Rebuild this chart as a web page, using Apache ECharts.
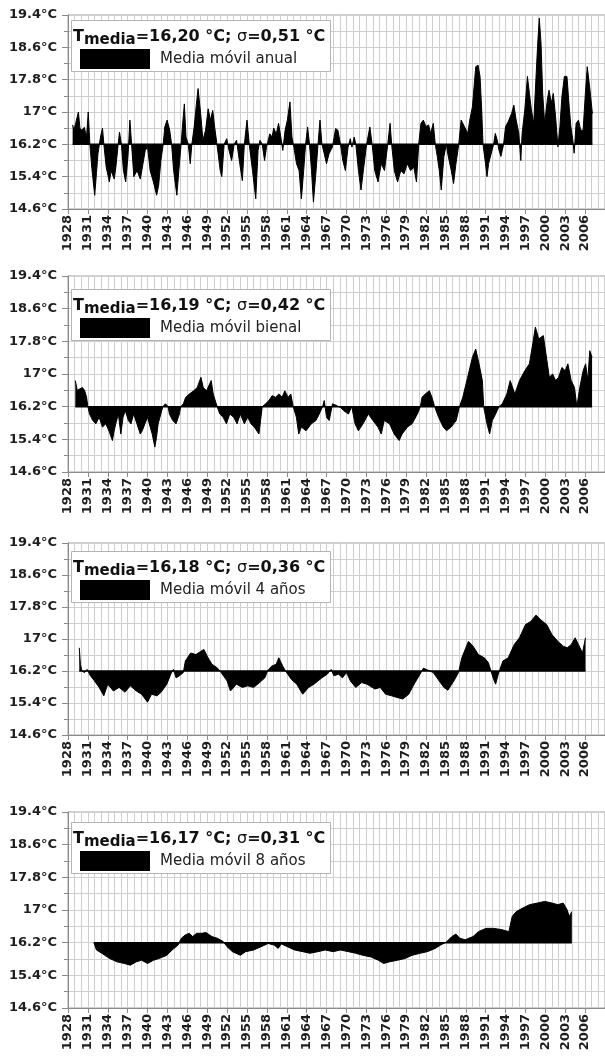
<!DOCTYPE html>
<html><head><meta charset="utf-8">
<script src="https://cdn.jsdelivr.net/npm/echarts@6/dist/echarts.min.js"></script>
<style>html,body{margin:0;padding:0;background:#fff}#c{width:605px;height:1059px}</style>
</head><body><div id="c"></div>
<script>
// ---- data (year, °C) ----
const anual = [[1928.7,16.68],[1928.9,16.55],[1929.2,16.75],[1929.57,17.0],[1929.8,16.6],[1930.07,16.55],[1930.46,16.62],[1930.8,16.38],[1931.05,17.0],[1931.3,16.2],[1931.6,15.6],[1932.03,14.94],[1932.3,15.5],[1932.52,15.97],[1932.9,16.38],[1933.2,16.6],[1933.41,16.2],[1933.75,15.65],[1934.24,15.27],[1934.49,15.55],[1934.98,15.34],[1935.23,15.65],[1935.57,16.2],[1935.77,16.5],[1936.06,16.2],[1936.36,15.55],[1936.7,15.27],[1937.05,15.9],[1937.34,16.8],[1937.59,16.2],[1937.93,15.4],[1938.42,15.55],[1938.91,15.34],[1939.31,15.72],[1939.65,16.05],[1940.0,16.13],[1940.39,15.55],[1940.88,15.27],[1941.37,14.94],[1941.67,15.18],[1942.01,15.8],[1942.36,16.2],[1942.6,16.63],[1942.95,16.8],[1943.34,16.55],[1943.63,16.2],[1943.93,15.55],[1944.42,14.94],[1944.72,15.55],[1945.06,16.2],[1945.3,16.72],[1945.55,17.2],[1945.8,16.38],[1946.14,16.2],[1946.44,15.72],[1946.68,16.2],[1947.03,16.63],[1947.27,17.04],[1947.62,17.58],[1948.01,16.96],[1948.35,16.3],[1948.75,16.55],[1949.14,17.08],[1949.48,16.8],[1949.83,17.04],[1950.12,16.63],[1950.47,16.2],[1950.96,15.55],[1951.2,15.4],[1951.55,16.2],[1951.94,16.34],[1952.29,16.05],[1952.68,15.8],[1953.07,16.2],[1953.42,16.3],[1953.91,15.72],[1954.3,15.3],[1954.6,16.2],[1955.0,16.8],[1955.34,16.2],[1955.83,15.55],[1956.32,14.85],[1956.67,16.05],[1956.96,16.3],[1957.3,16.2],[1957.65,15.8],[1957.94,16.13],[1958.44,16.46],[1958.78,16.38],[1959.03,16.6],[1959.42,16.46],[1959.76,16.72],[1960.1,16.38],[1960.4,16.05],[1960.75,16.55],[1961.09,16.8],[1961.48,17.25],[1961.78,16.38],[1962.07,16.13],[1962.47,15.72],[1962.86,15.55],[1963.2,14.85],[1963.55,15.55],[1963.84,16.2],[1964.14,16.63],[1964.43,16.2],[1964.73,15.55],[1965.02,14.77],[1965.42,15.55],[1965.71,16.2],[1966.01,16.8],[1966.3,16.2],[1966.65,15.97],[1966.99,15.72],[1967.38,15.97],[1967.88,16.13],[1968.37,16.59],[1968.71,16.55],[1969.1,16.2],[1969.45,15.8],[1969.84,15.55],[1970.24,16.13],[1970.58,16.34],[1970.83,16.13],[1971.17,16.38],[1971.42,16.2],[1971.81,15.55],[1972.2,15.07],[1972.55,15.55],[1973.04,16.2],[1973.53,16.63],[1973.87,16.2],[1974.27,15.55],[1974.76,15.27],[1975.25,15.72],[1975.74,15.55],[1976.23,16.2],[1976.58,16.72],[1976.82,16.2],[1977.22,15.55],[1977.71,15.27],[1978.2,15.55],[1978.69,15.47],[1979.18,15.72],[1979.68,15.55],[1980.17,15.63],[1980.56,15.27],[1980.9,16.2],[1981.24,16.72],[1981.6,16.8],[1982.0,16.64],[1982.4,16.68],[1982.7,16.47],[1983.1,16.72],[1983.4,16.2],[1983.7,15.9],[1984.0,15.56],[1984.3,15.07],[1984.7,15.9],[1985.07,16.2],[1985.3,15.95],[1985.8,15.56],[1986.16,15.23],[1986.5,15.7],[1986.94,16.2],[1987.3,16.8],[1987.8,16.64],[1988.3,16.47],[1988.6,16.8],[1989.0,17.13],[1989.5,18.12],[1989.85,18.16],[1990.15,17.88],[1990.4,17.05],[1990.6,16.2],[1990.97,15.73],[1991.2,15.4],[1991.45,15.73],[1991.85,15.98],[1992.2,16.2],[1992.45,16.47],[1992.75,16.3],[1993.0,16.06],[1993.3,15.9],[1993.7,16.2],[1994.0,16.64],[1994.4,16.76],[1994.9,16.96],[1995.25,17.17],[1995.6,16.8],[1996.0,16.47],[1996.3,15.8],[1996.5,16.47],[1996.9,17.05],[1997.3,17.88],[1997.6,17.46],[1997.9,17.05],[1998.25,16.72],[1998.6,17.88],[1998.85,18.7],[1999.09,19.32],[1999.35,18.7],[1999.6,17.46],[1999.9,16.72],[2000.3,17.3],[2000.56,17.54],[2000.9,17.22],[2001.2,17.46],[2001.55,16.88],[2001.9,16.14],[2002.2,16.64],[2002.5,17.38],[2002.87,17.88],[2003.26,17.88],[2003.6,17.13],[2003.85,16.64],[2004.15,16.3],[2004.35,15.98],[2004.64,16.72],[2005.0,16.8],[2005.33,16.55],[2005.7,16.55],[2006.07,17.54],[2006.32,18.12],[2006.7,17.6],[2007.1,16.96]];

const bienal = [[1929.1,16.84],[1929.4,16.6],[1929.7,16.64],[1930.16,16.67],[1930.5,16.6],[1930.8,16.43],[1931.0,16.2],[1931.25,16.02],[1931.74,15.86],[1932.2,15.78],[1932.7,15.94],[1933.2,15.7],[1933.7,15.78],[1934.2,15.6],[1934.7,15.37],[1934.95,15.6],[1935.2,15.78],[1935.6,16.02],[1935.97,15.53],[1936.3,15.94],[1936.65,16.1],[1937.1,15.86],[1937.5,15.78],[1937.9,16.02],[1938.4,15.78],[1938.9,15.53],[1939.2,15.61],[1939.6,15.78],[1940.0,15.94],[1940.4,15.7],[1940.7,15.53],[1941.1,15.21],[1941.35,15.45],[1941.6,15.78],[1942.0,16.02],[1942.3,16.2],[1942.7,16.27],[1943.1,16.2],[1943.3,16.02],[1943.8,15.86],[1944.3,15.78],[1944.8,16.02],[1945.0,16.2],[1945.4,16.27],[1945.75,16.43],[1946.3,16.51],[1946.97,16.59],[1947.5,16.67],[1948.05,16.92],[1948.4,16.67],[1948.9,16.59],[1949.6,16.84],[1949.9,16.51],[1950.5,16.2],[1950.9,16.02],[1951.4,15.94],[1951.9,15.78],[1952.4,16.02],[1953.0,15.94],[1953.5,15.78],[1954.0,16.02],[1954.6,15.78],[1955.1,15.94],[1955.6,15.78],[1956.1,15.7],[1956.8,15.53],[1957.3,16.2],[1957.8,16.27],[1958.3,16.35],[1958.8,16.47],[1959.3,16.43],[1959.8,16.51],[1960.3,16.43],[1960.7,16.59],[1961.2,16.43],[1961.6,16.51],[1961.97,16.2],[1962.45,15.94],[1962.8,15.53],[1963.2,15.7],[1963.9,15.61],[1964.7,15.78],[1965.4,15.86],[1965.9,16.02],[1966.4,16.2],[1966.65,16.35],[1967.0,15.94],[1967.4,15.86],[1967.9,16.27],[1968.6,16.22],[1969.1,16.18],[1969.6,16.1],[1970.3,16.02],[1970.8,16.2],[1971.3,15.78],[1971.8,15.61],[1972.5,15.78],[1973.3,16.02],[1974.0,15.86],[1974.75,15.7],[1975.25,15.53],[1975.7,15.86],[1976.5,15.78],[1977.2,15.53],[1977.95,15.37],[1978.4,15.53],[1979.2,15.7],[1979.9,15.78],[1980.7,16.02],[1981.15,16.2],[1981.4,16.43],[1981.9,16.51],[1982.5,16.59],[1982.9,16.43],[1983.3,16.2],[1983.9,15.94],[1984.6,15.7],[1985.1,15.61],[1985.8,15.7],[1986.55,15.86],[1987.05,16.2],[1987.55,16.43],[1988.28,16.92],[1989.0,17.41],[1989.5,17.61],[1990.0,17.25],[1990.5,16.84],[1990.7,16.2],[1991.2,15.78],[1991.6,15.53],[1992.0,15.86],[1992.5,16.02],[1993.0,16.2],[1993.5,16.27],[1994.2,16.51],[1994.7,16.84],[1995.4,16.51],[1996.1,16.84],[1996.9,17.08],[1997.6,17.25],[1998.1,17.74],[1998.5,18.15],[1999.0,17.86],[1999.7,17.94],[2000.1,17.49],[2000.6,16.92],[2001.1,17.0],[2001.55,16.84],[2002.0,16.92],[2002.5,17.16],[2003.0,17.08],[2003.4,17.25],[2003.9,16.84],[2004.4,16.67],[2004.75,16.2],[2005.2,16.67],[2005.7,17.08],[2006.08,17.25],[2006.4,16.84],[2006.7,17.57],[2007.05,17.41]];

const cuatroAnos = [[1929.7,16.78],[1929.87,16.37],[1930.1,16.2],[1930.5,16.16],[1930.9,16.24],[1931.3,16.1],[1932.0,15.95],[1932.7,15.79],[1933.4,15.58],[1934.0,15.87],[1934.85,15.7],[1935.7,15.79],[1936.6,15.67],[1937.4,15.83],[1938.3,15.7],[1939.1,15.62],[1940.0,15.42],[1940.6,15.62],[1941.4,15.58],[1942.0,15.66],[1942.9,15.87],[1943.5,16.12],[1943.9,16.24],[1944.3,16.03],[1944.8,16.08],[1945.4,16.16],[1945.7,16.45],[1946.5,16.65],[1947.3,16.61],[1948.0,16.69],[1948.5,16.74],[1949.0,16.57],[1949.7,16.37],[1950.5,16.28],[1951.1,16.16],[1952.0,15.95],[1952.5,15.7],[1953.4,15.87],[1954.3,15.79],[1955.1,15.83],[1956.0,15.79],[1956.9,15.91],[1957.7,16.03],[1958.1,16.2],[1958.7,16.32],[1959.4,16.37],[1959.8,16.53],[1960.4,16.32],[1960.8,16.2],[1961.7,15.99],[1962.5,15.87],[1963.4,15.62],[1964.3,15.79],[1965.1,15.87],[1966.3,16.03],[1967.1,16.12],[1967.7,16.24],[1968.1,16.08],[1968.8,16.12],[1969.4,16.03],[1970.0,16.16],[1970.6,15.95],[1971.4,15.79],[1972.3,15.91],[1973.1,15.87],[1974.3,15.75],[1975.1,15.79],[1975.9,15.62],[1976.8,15.58],[1977.6,15.54],[1978.5,15.5],[1979.4,15.62],[1980.2,15.87],[1981.1,16.12],[1981.6,16.27],[1982.3,16.22],[1983.1,16.16],[1984.0,15.95],[1984.7,15.79],[1985.3,15.72],[1986.2,15.95],[1986.9,16.16],[1987.4,16.53],[1988.4,16.94],[1989.1,16.82],[1989.9,16.61],[1990.8,16.53],[1991.4,16.41],[1991.8,16.2],[1992.2,15.99],[1992.5,15.87],[1992.9,16.12],[1993.6,16.45],[1994.4,16.53],[1995.3,16.86],[1996.1,17.03],[1997.0,17.36],[1997.8,17.44],[1998.6,17.6],[1999.3,17.48],[2000.2,17.36],[2001.0,17.11],[2001.9,16.94],[2002.7,16.82],[2003.3,16.78],[2003.9,16.86],[2004.5,17.03],[2005.0,16.86],[2005.6,16.65],[2006.06,17.03]];

const ochoAnos = [[1931.9,16.2],[1932.3,16.02],[1933.1,15.94],[1934.3,15.81],[1935.4,15.73],[1936.5,15.69],[1937.4,15.65],[1938.3,15.73],[1939.1,15.77],[1940.0,15.69],[1940.9,15.77],[1941.7,15.81],[1942.9,15.89],[1943.7,16.02],[1944.6,16.14],[1945.1,16.31],[1945.7,16.39],[1946.3,16.43],[1946.8,16.35],[1947.4,16.43],[1948.2,16.43],[1948.8,16.45],[1949.7,16.35],[1950.5,16.31],[1951.4,16.23],[1952.0,16.1],[1952.8,15.98],[1954.0,15.89],[1954.8,15.98],[1956.0,16.02],[1957.1,16.1],[1958.2,16.18],[1958.5,16.22],[1959.1,16.14],[1959.7,16.06],[1960.2,16.17],[1961.1,16.1],[1962.2,16.02],[1963.4,15.98],[1964.5,15.94],[1965.7,15.98],[1966.8,16.02],[1968.0,15.98],[1969.1,16.02],[1970.3,15.98],[1971.4,15.94],[1972.5,15.89],[1973.7,15.85],[1974.8,15.77],[1975.6,15.69],[1976.5,15.73],[1977.7,15.77],[1978.8,15.81],[1979.9,15.89],[1981.1,15.94],[1982.2,15.98],[1983.4,16.06],[1984.2,16.14],[1985.1,16.22],[1985.9,16.35],[1986.5,16.41],[1987.1,16.31],[1987.9,16.27],[1989.1,16.35],[1989.9,16.47],[1991.05,16.55],[1992.2,16.55],[1993.4,16.52],[1994.5,16.47],[1995.0,16.84],[1995.6,16.96],[1996.5,17.04],[1997.6,17.13],[1998.8,17.17],[1999.9,17.21],[2001.0,17.17],[2001.9,17.13],[2002.7,17.17],[2003.3,17.0],[2003.6,16.84],[2004.0,16.96]];

const seriesNames = ['Media móvil anual','Media móvil bienal','Media móvil 4 años','Media móvil 8 años'];
const tMediaTexts = ['16,20','16,19','16,18','16,17'];
const sigmaTexts = ['0,51','0,42','0,36','0,31'];
const xTickLabels = ['1928','1931','1934','1937','1940','1943','1946','1949','1952','1955','1958','1961','1964','1967','1970','1973','1976','1979','1982','1985','1988','1991','1994','1997','2000','2003','2006'];
const yTickLabels = ['14.6°C','15.4°C','16.2°C','17°C','17.8°C','18.6°C','19.4°C'];

// ---- layout ----
const START_YEAR = 1928, BASE = 16.2;
const panelData = [anual, bienal, cuatroAnos, ochoAnos];
const tops = [15, 276, 543, 812];
const heights = [194, 196, 192, 196];
const boxTops = [21, 290, 552, 823];
const FONT = 'DejaVu Sans';
const GRID_C = '#cfcfcf', AXIS_C = '#8a8a8a', TXT_C = '#1e1e1e';

const grid = [], xAxis = [], yAxis = [], series = [], title = [];
panelData.forEach((d, i) => {
  grid.push({left: 68, right: -12, top: tops[i], height: heights[i], show: true,
             borderColor: '#a0a0a0', borderWidth: 1, backgroundColor: 'transparent'});
  xAxis.push({type: 'value', gridIndex: i, min: 0, max: 81, interval: 3,
    axisLine: {show: true, onZero: false, lineStyle: {color: AXIS_C}},
    axisTick: {show: true, length: 5, lineStyle: {color: AXIS_C}},
    minorTick: {show: false, splitNumber: 3},
    axisLabel: {rotate: 90, margin: 6, fontFamily: FONT, fontWeight: 'bold', fontSize: 13, color: TXT_C,
      showMaxLabel: false,
      formatter: v => xTickLabels[Math.round(v / 3)] || ''},
    splitLine: {show: true, lineStyle: {color: GRID_C, width: 1}},
    minorSplitLine: {show: true, lineStyle: {color: GRID_C, width: 1}}});
  yAxis.push({type: 'value', gridIndex: i, min: -1.6, max: 3.2, interval: 0.8,
    axisLine: {show: true, onZero: false, lineStyle: {color: AXIS_C}},
    axisTick: {show: true, length: 6, lineStyle: {color: AXIS_C}},
    minorTick: {show: true, splitNumber: 2, length: 4, lineStyle: {color: AXIS_C}},
    axisLabel: {margin: 11, fontFamily: FONT, fontWeight: 'bold', fontSize: 13, color: TXT_C,
      formatter: v => yTickLabels[Math.round((v + 1.6) / 0.8)] || ''},
    splitLine: {show: true, lineStyle: {color: GRID_C, width: 1}},
    minorSplitLine: {show: true, lineStyle: {color: GRID_C, width: 1}}});
  series.push({type: 'line', name: seriesNames[i], xAxisIndex: i, yAxisIndex: i,
    data: d.map(p => [p[0] - START_YEAR, +(p[1] - BASE).toFixed(3)]),
    symbol: 'none', showSymbol: false, silent: true, z: 3,
    lineStyle: {color: '#000', width: 1},
    areaStyle: {color: '#000', opacity: 1}});
  series.push({type: 'line', xAxisIndex: i, yAxisIndex: i, silent: true, z: 4, symbol: 'none',
    data: [[d[0][0] - START_YEAR, 0], [d[d.length - 1][0] - START_YEAR, 0]],
    lineStyle: {color: '#000', width: 1.5}});
  title.push({left: 71, top: boxTops[i],
    text: '{b|T}{s|media}{b|=' + tMediaTexts[i] + ' °C; }{g|σ}{b|=' + sigmaTexts[i] + ' °C}\n{sp| }{r| }{l|' + seriesNames[i] + '}',
    backgroundColor: '#fff', borderColor: '#b4b4b4', borderWidth: 1, padding: [6, 5, 3, 2],
    textStyle: {rich: {
      b: {fontFamily: FONT, fontWeight: 'bold', fontSize: 16, color: '#111', lineHeight: 20},
      s: {fontFamily: FONT, fontWeight: 'bold', fontSize: 15, color: '#111', lineHeight: 20, padding: [7, 0, 0, 0]},
      g: {fontFamily: FONT, fontWeight: 'normal', fontSize: 16, color: '#111', lineHeight: 20},
      sp: {width: 7, lineHeight: 24, fontSize: 10},
      r: {width: 70, height: 20, backgroundColor: '#000', lineHeight: 24, fontSize: 10},
      l: {fontFamily: FONT, fontWeight: 'normal', fontSize: 15, color: '#222', lineHeight: 24, padding: [0, 0, 0, 10]}
    }}});
});

const chart = echarts.init(document.getElementById('c'), null, {renderer: 'canvas'});
chart.setOption({animation: false, backgroundColor: '#fff', title, grid, xAxis, yAxis, series});
</script></body></html>
